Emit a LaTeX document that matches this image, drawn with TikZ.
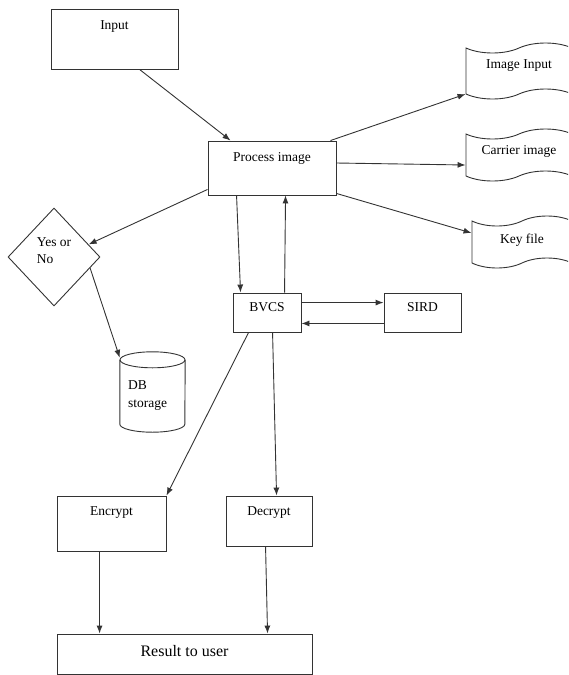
\documentclass[tikz,border=0pt]{standalone}
\usepackage{fontspec}
\setmainfont{Liberation Serif}
\usetikzlibrary{arrows.meta}
\usetikzlibrary{shapes.geometric}
\usetikzlibrary{shapes.symbols}
\usetikzlibrary{calc}

\tikzset{
  box/.style 2 args={draw=black!80, line width=0.9pt, inner sep=0pt, minimum width=#1pt, minimum height=#2pt},
  boxtext/.style={anchor=north, inner sep=0pt, font=\fontsize{13.5}{16.7}\selectfont},
  paper/.style 2 args={tape, draw=black!80, line width=0.9pt, tape bend height=10pt, inner sep=0pt, minimum width=#1pt, minimum height=#2pt},
  arr/.style={draw=black!80, line width=0.9pt, -{Latex[length=8pt,width=6pt]}},
  outline/.style={draw=black!80, line width=0.9pt}
}

\begin{document}
\begin{tikzpicture}[x=1pt, y=-1pt]
  \useasboundingbox (0,0) rectangle (568,675);
  \clip (0,0) rectangle (568,675);
  \node[box={127}{60}, label={[boxtext,yshift=-11.5pt]north:Input}] (in) at (114.5,39) {};
  \node[box={128}{54}, label={[boxtext,yshift=-12pt]north:Process image}] (proc) at (272,168) {};
  \node[box={68}{39}, label={[boxtext,yshift=-10pt]north:BVCS}] (bvcs) at (267,312.5) {};
  \node[box={77}{39}, label={[boxtext,yshift=-10pt]north:SIRD}] (sird) at (422.5,312.5) {};
  \node[box={109}{55}, label={[boxtext,yshift=-11pt]north:Encrypt}] (enc) at (111.5,523.5) {};
  \node[box={86}{50}, label={[boxtext,yshift=-11pt]north:Decrypt}] (dec) at (269,521) {};
  \node[box={255}{40}, label={[boxtext,yshift=-11.5pt,font=\fontsize{16}{19}\selectfont]north:Result to user}] (res) at (184.5,654) {};
  \node[box={92}{98}, diamond, label={[boxtext,anchor=center,align=left,yshift=6.6pt]center:Yes or\\No}] (dia) at (54,257) {};
  \node[minimum width=65pt, minimum height=80pt, inner sep=0pt, label={[boxtext,anchor=center,align=left,xshift=-5pt,yshift=-3.5pt,font=\fontsize{13.5}{18.3}\selectfont]center:DB\\storage}] (db) at (152.5,392) {};
  \draw[outline] ($(db.north west)+(0,8)$) -- ($(db.south west)+(0,-8)$) arc[start angle=180, end angle=0, x radius=32.5, y radius=8] -- ($(db.north east)+(0,8)$);
  \draw[outline] ($(db.north)+(0,8)$) ellipse [x radius=32.5, y radius=8];
  \node[paper={106}{56}, label={[boxtext,anchor=center,yshift=5pt]center:Image Input}] (img) at (519,71) {};
  \node[paper={106}{52}, label={[boxtext,anchor=center,yshift=4pt]center:Carrier image}] (car) at (519,155) {};
  \node[paper={100}{52}, label={[boxtext,anchor=center,yshift=2pt]center:Key file}] (key) at (522,242) {};

  \draw[arr] ($(in.south west)+(89,0)$) -- ($(proc.north west)+(23,0)$);
  \draw[arr] ($(proc.north east)+(-6,0)$) -- (img.south west);
  \draw[arr] ($(proc.east)+(0,-5)$) -- ($(car.west)+(0,10)$);
  \draw[arr] ($(proc.south east)+(0,-2)$) -- ($(key.west)+(0,-9)$);
  \draw[arr] ($(proc.south west)+(0,-6)$) -- (dia.20);
  \draw[arr] (dia.-17) -- ($(db.north west)+(0,6)$);
  \draw[arr] ($(proc.south west)+(29,0)$) -- ($(bvcs.north west)+(8,0)$);
  \draw[arr] ($(bvcs.north west)+(52,0)$) -- ($(proc.south west)+(78,0)$);
  \draw[arr] ($(bvcs.north east)+(0,10)$) -- ($(sird.north west)+(0,10)$);
  \draw[arr] ($(sird.south west)+(0,-9)$) -- ($(bvcs.south east)+(0,-9)$);
  \draw[arr] ($(bvcs.south west)+(16,0)$) -- (enc.north east);
  \draw[arr] ($(bvcs.south west)+(40,0)$) -- ($(dec.north west)+(51,0)$);
  \draw[arr] ($(enc.south west)+(43,0)$) -- ($(res.north west)+(43,0)$);
  \draw[arr] ($(dec.south west)+(40,0)$) -- ($(res.north west)+(211,0)$);
\end{tikzpicture}
\end{document}
